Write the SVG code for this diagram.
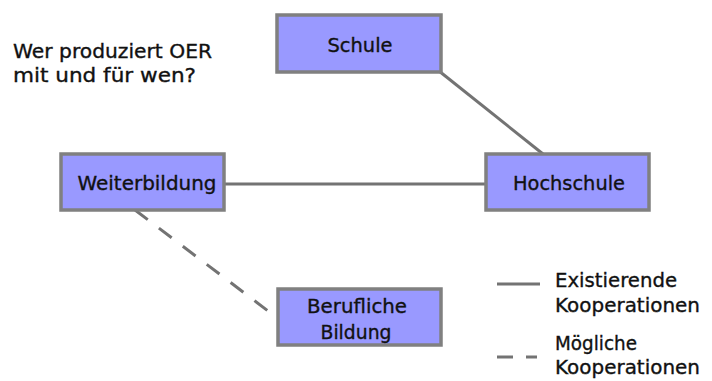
<svg xmlns="http://www.w3.org/2000/svg" width="712" height="381" viewBox="0 0 712 381">
<style>
text{font-family:"DejaVu Sans","Liberation Sans",sans-serif;font-size:20px;fill:#111;stroke:#111;stroke-width:0.35}
.box{fill:#9999ff;stroke:#808080;stroke-width:3.5}
.ln{stroke:#737373;stroke-width:3;fill:none}
.dash{stroke-dasharray:16 14}
.c{text-anchor:middle}
</style>
<rect width="712" height="381" fill="#fff"/>
<g id="title">
<text x="13" y="58" textLength="199" lengthAdjust="spacingAndGlyphs">Wer produziert OER</text>
<text x="13" y="82" textLength="183" lengthAdjust="spacingAndGlyphs">mit und für wen?</text>
</g>
<g id="connectors">
<line class="ln" x1="439" y1="71" x2="543" y2="154"/>
<line class="ln" x1="225" y1="184" x2="485" y2="184"/>
<line class="ln dash" x1="135" y1="210" x2="280" y2="320"/>
</g>
<g id="schule">
<rect class="box" x="277" y="15" width="164" height="57"/>
<text class="c" x="360" y="52" textLength="65" lengthAdjust="spacingAndGlyphs">Schule</text>
</g>
<g id="weiterbildung">
<rect class="box" x="61" y="154" width="163" height="56"/>
<text class="c" x="147" y="190" textLength="139" lengthAdjust="spacingAndGlyphs">Weiterbildung</text>
</g>
<g id="hochschule">
<rect class="box" x="486" y="154" width="163" height="56"/>
<text class="c" x="569" y="190" textLength="112" lengthAdjust="spacingAndGlyphs">Hochschule</text>
</g>
<g id="berufliche">
<rect class="box" x="278" y="289" width="163" height="56"/>
<text class="c" x="357" y="313" textLength="100" lengthAdjust="spacingAndGlyphs">Berufliche</text>
<text class="c" x="356" y="339" textLength="71" lengthAdjust="spacingAndGlyphs">Bildung</text>
</g>
<g id="legend">
<line class="ln" x1="497" y1="284" x2="540" y2="284"/>
<line class="ln" x1="497" y1="357" x2="513" y2="357"/>
<line class="ln" x1="526" y1="357" x2="537" y2="357"/>
<text x="555" y="287" textLength="122" lengthAdjust="spacingAndGlyphs">Existierende</text>
<text x="555" y="312" textLength="145" lengthAdjust="spacingAndGlyphs">Kooperationen</text>
<text x="555" y="350" textLength="82" lengthAdjust="spacingAndGlyphs">Mögliche</text>
<text x="555" y="374" textLength="145" lengthAdjust="spacingAndGlyphs">Kooperationen</text>
</g>
</svg>
